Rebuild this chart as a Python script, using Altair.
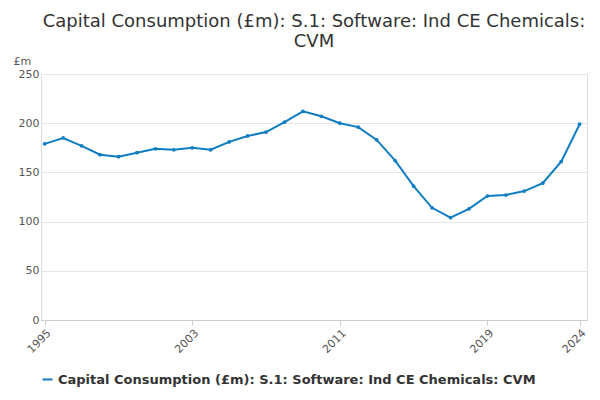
import altair as alt
import pandas as pd

years = list(range(1995, 2025))
values = [179, 185, 177, 168, 166, 170, 174, 173, 175, 173,
          181, 187, 191, 201, 212, 207, 200, 196, 183, 162,
          136, 114, 104, 113, 126, 127, 131, 139, 161, 199]
series = "Capital Consumption (£m): S.1: Software: Ind CE Chemicals: CVM"

df = pd.DataFrame({"year": years, "value": values, "series": series})

base = alt.Chart(df).encode(
    x=alt.X("year:Q", title=None,
            scale=alt.Scale(domain=[1994.8, 2024.4], nice=False, zero=False),
            axis=alt.Axis(values=[1995, 2003, 2011, 2019, 2024], format="d",
                          labelAngle=-45, grid=False, domainColor="#ccc",
                          tickColor="#ccc", labelColor="#555", labelFontSize=11)),
    y=alt.Y("value:Q", title="£m",
            scale=alt.Scale(domain=[0, 250]),
            axis=alt.Axis(values=[0, 50, 100, 150, 200, 250], domain=False, ticks=False,
                          gridColor="#e6e6e6", labelColor="#555", labelFontSize=11,
                          titleAngle=0, titleAlign="left", titleX=-28, titleY=-8,
                          titleFontWeight="normal", titleColor="#555")),
    color=alt.Color("series:N", scale=alt.Scale(range=["#0f7dc2"]),
                    legend=alt.Legend(title=None, orient="bottom", labelFontSize=13,
                                      labelFontWeight="bold", labelColor="#333",
                                      symbolType="stroke", symbolStrokeWidth=2,
                                      labelLimit=600)),
)

line = base.mark_line(strokeWidth=2) + base.mark_point(filled=True, size=14, opacity=1)

source = alt.Chart(pd.DataFrame({"t": ["Source:"]})).mark_text(
    align="right", baseline="bottom", fontSize=13, color="#555"
).encode(text="t:N", x=alt.value(549), y=alt.value(330))

chart = alt.layer(line, source).properties(
    width=584, height=384,
    autosize=alt.AutoSizeParams(type="fit", contains="padding"),
    title=alt.TitleParams(["Capital Consumption (£m): S.1: Software: Ind CE Chemicals:", "CVM"],
                          fontSize=18, fontWeight="normal", color="#333", anchor="middle"),
).configure_view(stroke=None).configure(font="DejaVu Sans")

chart.save("out.html", embed_options={"renderer": "svg", "actions": False})
